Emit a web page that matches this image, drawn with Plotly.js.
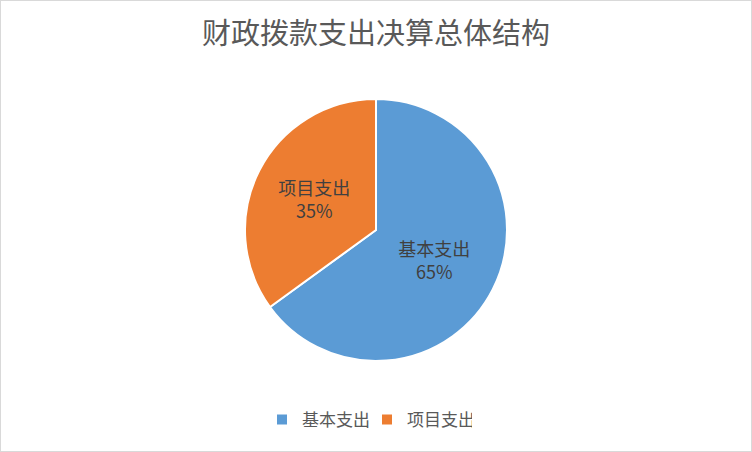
<!DOCTYPE html>
<html>
<head>
<meta charset="utf-8">
<script src="https://cdn.plot.ly/plotly-3.0.1.min.js"></script>
<style>
  html, body { margin: 0; padding: 0; background: #fff; }
  #frame { width: 752px; height: 452px; box-sizing: border-box; border: 1px solid #d9d9d9; }
  #chart { width: 750px; height: 450px; }
</style>
</head>
<body>
<div id="frame"><div id="chart"></div></div>
<script>
var categories = ['基本支出', '项目支出'];
var shares = [65, 35];
var colors = ['#5B9BD5', '#ED7D31'];

var font = '"Noto Sans CJK SC", "Noto Sans", sans-serif';

var trace = {
    type: 'pie',
    labels: categories,
    values: shares,
    sort: false,
    direction: 'clockwise',
    rotation: 0,
    marker: { colors: colors, line: { color: '#ffffff', width: 2 } },
    textinfo: 'label+percent',
    textposition: 'inside',
    insidetextorientation: 'horizontal',
    insidetextfont: { family: font, size: 18, color: '#404040' },
    hoverinfo: 'label+percent'
};

var layout = {
    width: 750,
    height: 450,
    margin: { l: 0, r: 0, t: 98, b: 90 },
    paper_bgcolor: '#ffffff',
    font: { family: font, color: '#595959' },
    // show every label at the size of the biggest one that fits
    uniformtext: { mode: 'show', minsize: 16 },
    title: {
        text: '财政拨款支出决算总体结构',
        font: { family: font, size: 29, color: '#595959' },
        x: 0.5,
        xanchor: 'center',
        y: 1 - 33 / 450,
        yref: 'container',
        yanchor: 'middle'
    },
    showlegend: true,
    legend: {
        orientation: 'h',
        x: 0.488,
        xanchor: 'center',
        y: -0.225,
        yanchor: 'middle',
        entrywidth: 60,
        font: { family: font, size: 17, color: '#595959' },
        itemclick: false
    }
};

Plotly.newPlot('chart', [trace], layout, { displayModeBar: false, staticPlot: true });
</script>
</body>
</html>
